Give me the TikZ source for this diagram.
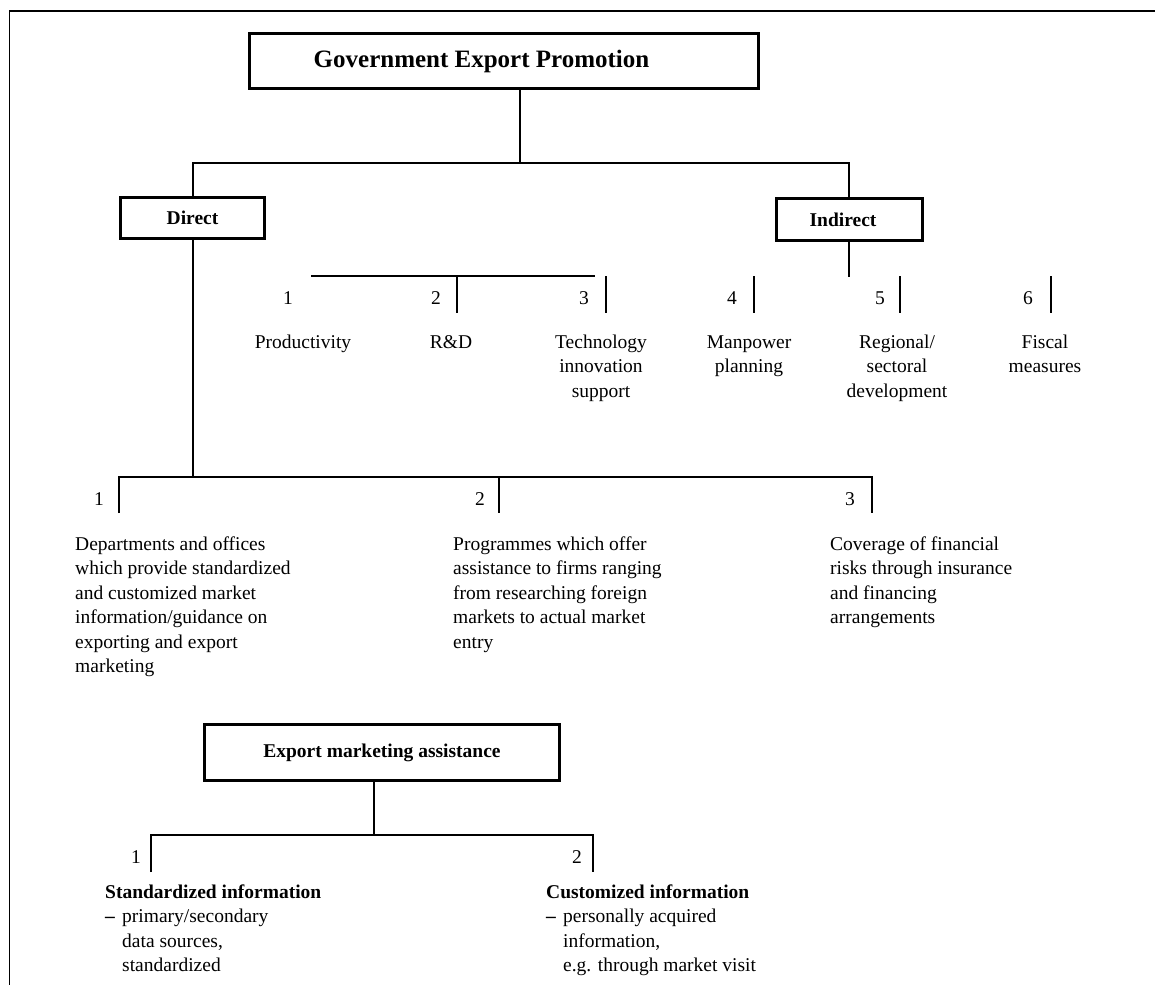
\documentclass[tikz,border=0pt]{standalone}
\usepackage{fontspec}
\setmainfont{Liberation Serif}
\begin{document}
\begin{tikzpicture}[x=1pt,y=-1pt,
  box/.style={draw, line width=3pt, inner sep=0pt, font=\fontsize{19.5}{24.5}\selectfont\bfseries},
  conn/.style={line width=2pt},
  framestyle/.style={line width=1.8pt},
  txt/.style={inner sep=0pt, font=\fontsize{19.5}{24.5}\selectfont},
  num/.style={txt, anchor=base},
  lbl/.style={txt, anchor=base, align=center},
  blk/.style={txt, anchor=base west, align=left},
]
\useasboundingbox (0,0) rectangle (1155,985);

% frame (top and left)
\coordinate (fr1) at (1155,10.7);
\coordinate (fr2) at (9.5,10.7);
\coordinate (fr3) at (9.5,985);
\draw[framestyle] (fr1) -- (fr2) -- (fr3);

% boxes
\node[box, minimum width=509pt, minimum height=55pt, font=\fontsize{25}{30}\selectfont\bfseries]
  (gep) at (504,61) {Government Export Promotion\hspace*{45pt}};
\node[box, minimum width=144pt, minimum height=41pt] (direct) at (192.5,218) {Direct};
\node[box, minimum width=146pt, minimum height=42pt] (indirect) at (849,219.5) {Indirect\hspace*{12pt}};
\node[box, minimum width=355pt, minimum height=56pt] (ema) at (382,752.5) {Export marketing assistance};

% top tree
\coordinate (j0) at (520,163);
\coordinate (jl) at (192.5,163);
\coordinate (jr) at (849,163);
\draw[conn] (gep.south -| j0) -- (j0);
\draw[conn] (direct.north) -- (jl) -- (jr) -- (indirect.north);

% indirect row
\coordinate (ib) at (849,277);
\draw[conn] (indirect.south) -- (ib);
\coordinate (ra) at (311,276);
\coordinate (rb) at (595,276);
\draw[conn] (ra) -- (rb);
\foreach \n/\x in {2/457,3/606,4/754,5/900,6/1051}{
  \coordinate (it\n) at (\x,276);
  \coordinate (ie\n) at (\x,313);
  \draw[conn] (it\n) -- (ie\n);
}
\foreach \n/\x in {1/288,2/436,3/584,4/732,5/880,6/1028}{
  \node[num] (in\n) at (\x,304.6) {\n};
}
% (base anchor of a multi-line node = baseline of its last line)
\node[lbl] (l1) at (303,348) {Productivity};
\node[lbl] (l2) at (451,348) {R\&D};
\node[lbl] (l3) at (601,397) {Technology\\innovation\\support};
\node[lbl] (l4) at (749,372.5) {Manpower\\planning};
\node[lbl] (l5) at (897,397) {Regional/\\sectoral\\development};
\node[lbl] (l6) at (1045,372.5) {Fiscal\\measures};

% direct row
\coordinate (dj) at (192.5,477);
\draw[conn] (direct.south) -- (dj);
\coordinate (d1t) at (119,477);
\coordinate (d1b) at (119,513);
\coordinate (d2t) at (499,477);
\coordinate (d2b) at (499,513);
\coordinate (d3t) at (872,477);
\coordinate (d3b) at (872,513);
\draw[conn] (d1b) -- (d1t) -- (d3t) -- (d3b);
\draw[conn] (d2t) -- (d2b);
\node[num] (dn1) at (99,505.6) {1};
\node[num] (dn2) at (480,505.6) {2};
\node[num] (dn3) at (850,505.6) {3};
\node[blk] (dt1) at (75,672.5) {Departments and offices\\which provide standardized\\and customized market\\information/guidance on\\exporting and export\\marketing};
\node[blk] (dt2) at (453,648) {Programmes which offer\\assistance to firms ranging\\from researching foreign\\markets to actual market\\entry};
\node[blk] (dt3) at (830,623.5) {Coverage of financial\\risks through insurance\\and financing\\arrangements};

% export marketing assistance
\coordinate (ej) at (373.5,835);
\coordinate (e1t) at (151,835);
\coordinate (e1b) at (151,872);
\coordinate (e2t) at (593,835);
\coordinate (e2b) at (593,872);
\draw[conn] (ema.south -| ej) -- (ej);
\draw[conn] (e1b) -- (e1t) -- (e2t) -- (e2b);
\node[num] (en1) at (136,863.6) {1};
\node[num] (en2) at (577,863.6) {2};
\node[blk] (et1) at (105,971.5) {\textbf{Standardized information}\\\makebox[17pt][l]{\textbf{–}}primary/secondary\\\hspace*{17pt}data sources,\\\hspace*{17pt}standardized};
\node[blk] (et2) at (546,971.5) {\textbf{Customized information}\\\makebox[17pt][l]{\textbf{–}}personally acquired\\\hspace*{17pt}information,\\\hspace*{17pt}e.g. through market visit};
\end{tikzpicture}
\end{document}
